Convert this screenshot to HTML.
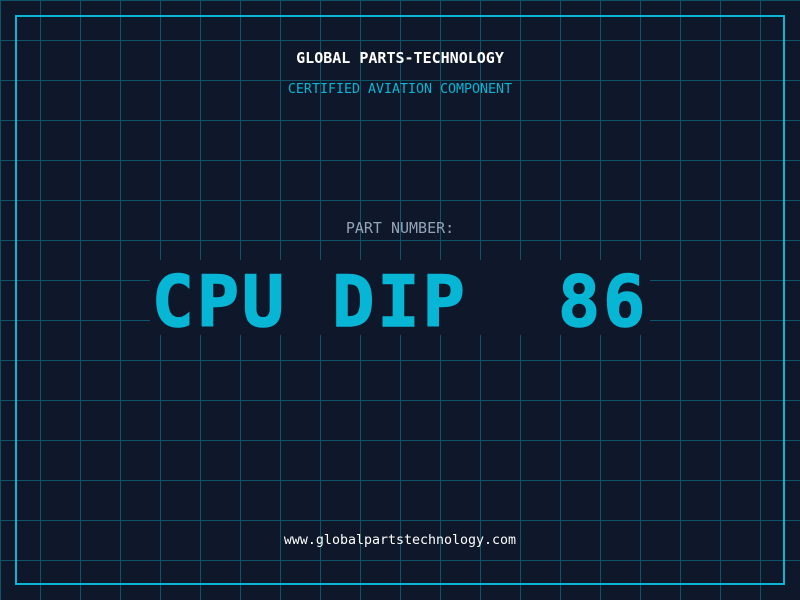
<!DOCTYPE html>
<html><head><meta charset="utf-8"><style>
html,body{margin:0;padding:0;background:#0f172a;}
svg{display:block}
</style></head><body>
<svg width="800" height="600" xmlns="http://www.w3.org/2000/svg">
<defs>
<pattern id="g" width="40" height="40" patternUnits="userSpaceOnUse">
<path d="M0.5 0V40M0 0.5H40" stroke="#0e5468" stroke-width="1" fill="none"/>
</pattern>
</defs>
<rect width="800" height="600" fill="#0f172a"/>
<rect width="800" height="600" fill="url(#g)"/>
<rect x="16" y="16" width="768" height="568" fill="none" stroke="#06b6d4" stroke-width="2"/>
<rect x="150" y="260" width="500" height="75" fill="#0f172a"/>
<g font-family="DejaVu Sans Mono, Liberation Mono, monospace" text-anchor="middle">
<text x="400" y="63" font-size="15" font-weight="bold" fill="#ffffff">GLOBAL PARTS-TECHNOLOGY</text>
<text x="400" y="93" font-size="13.3" fill="#06b6d4">CERTIFIED AVIATION COMPONENT</text>
<text x="400" y="233" font-size="15" fill="#94a3b8">PART NUMBER:</text>
<text x="400" y="326" font-size="70" font-weight="bold" letter-spacing="3" fill="#06b6d4" stroke="#06b6d4" stroke-width="1.5" xml:space="preserve">CPU DIP  86</text>
<text x="400" y="544" font-size="13.3" fill="#ffffff">www.globalpartstechnology.com</text>
</g>
</svg>
</body></html>
